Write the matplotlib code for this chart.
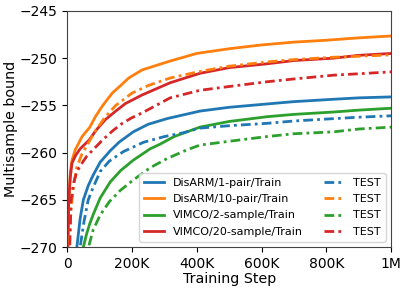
import numpy as np
import matplotlib
matplotlib.use('Agg')
import matplotlib.pyplot as plt

# steps in thousands
disarm1_train_x = [25, 30, 40, 50, 65, 80, 102, 133, 160, 204, 250, 308, 410, 500, 616, 700, 822, 900, 1000]
disarm1_train_y = [-272, -270, -267, -265, -263.5, -262.4, -261.0, -259.8, -258.9, -257.8, -257.0, -256.4,
                   -255.6, -255.2, -254.85, -254.6, -254.35, -254.2, -254.1]
disarm1_test_x = [36, 40, 52, 65, 80, 102, 130, 173, 236, 300, 358, 410, 500, 616, 700, 822, 900, 1000]
disarm1_test_y = [-272, -270, -267.3, -265, -263.7, -262.0, -260.9, -259.9, -258.9, -258.3, -257.9, -257.4,
                  -257.15, -256.9, -256.65, -256.4, -256.25, -256.1]

disarm10_train_x = [1, 2, 5, 10, 15, 25, 46, 70, 87, 110, 139, 165, 190, 231, 318, 400, 500, 600, 700, 800, 900, 1000]
disarm10_train_y = [-272, -270, -265, -262, -260.8, -259.7, -258.3, -257.3, -256.2, -255.0, -253.7, -252.9,
                    -252.1, -251.25, -250.3, -249.5, -249.0, -248.6, -248.3, -248.1, -247.85, -247.65]
disarm10_test_x = [5, 6, 12, 20, 30, 45, 62, 85, 118, 150, 200, 250, 318, 410, 500, 616, 700, 822, 900, 1000]
disarm10_test_y = [-272, -270, -266, -263.5, -261.5, -260.2, -259.2, -257.8, -256.2, -255.0, -253.7, -252.9,
                   -252.1, -251.4, -250.85, -250.4, -250.15, -249.9, -249.8, -249.65]

vimco2_train_x = [45, 50, 60, 70, 81, 102, 133, 165, 204, 256, 287, 330, 410, 500, 616, 700, 822, 900, 1000]
vimco2_train_y = [-272, -270, -268.6, -267.5, -266.5, -264.8, -263.1, -261.9, -260.8, -259.6, -259.1, -258.3,
                  -257.3, -256.7, -256.2, -255.95, -255.7, -255.5, -255.3]
vimco2_test_x = [60, 66, 80, 102, 130, 164, 204, 256, 310, 370, 410, 500, 616, 700, 822, 900, 1000]
vimco2_test_y = [-272, -270, -268.2, -266.6, -265.2, -264.0, -262.9, -261.6, -260.6, -259.7, -259.2, -258.8,
                 -258.3, -258.0, -257.8, -257.5, -257.3]

vimco20_train_x = [1, 2, 5, 10, 15, 26, 40, 67, 90, 118, 150, 180, 231, 318, 410, 500, 616, 700, 822, 900, 1000]
vimco20_train_y = [-272, -270, -265, -262.5, -261.1, -260.3, -259.6, -258.7, -257.6, -256.5, -255.6, -254.8,
                   -253.9, -252.6, -251.6, -251.0, -250.6, -250.25, -250.0, -249.7, -249.5]
vimco20_test_x = [7, 8, 12, 20, 30, 46, 60, 77, 108, 140, 170, 200, 231, 318, 410, 500, 616, 700, 822, 900, 1000]
vimco20_test_y = [-272, -270, -265, -263.2, -262.0, -261.1, -260.4, -259.8, -258.7, -257.7, -256.9, -256.3,
                  -255.8, -254.2, -253.4, -253.0, -252.5, -252.2, -251.8, -251.65, -251.45]

labels = ['DisARM/1-pair/Train', 'DisARM/10-pair/Train', 'VIMCO/2-sample/Train', 'VIMCO/20-sample/Train']
colors = ['#1f77b4', '#ff7f0e', '#2ca02c', '#d62728']
train = [(disarm1_train_x, disarm1_train_y), (disarm10_train_x, disarm10_train_y),
         (vimco2_train_x, vimco2_train_y), (vimco20_train_x, vimco20_train_y)]
test = [(disarm1_test_x, disarm1_test_y), (disarm10_test_x, disarm10_test_y),
        (vimco2_test_x, vimco2_test_y), (vimco20_test_x, vimco20_test_y)]

fig = plt.figure(figsize=(4.07, 2.88), dpi=100)
ax = fig.add_axes([0.165, 0.142, 0.796, 0.82])

for (x, y), c, lab in zip(train, colors, labels):
    ax.plot(np.array(x) * 1000, y, color=c, lw=2, label=lab)
for (x, y), c in zip(test, colors):
    ax.plot(np.array(x) * 1000, y, color=c, lw=2, ls=(0, (3.5, 1.5, 1, 1.5)), label='TEST')

ax.set_xlim(0, 1e6)
ax.set_ylim(-270, -245)
ax.set_xticks([0, 2e5, 4e5, 6e5, 8e5, 1e6])
ax.set_xticklabels(['0', '200K', '400K', '600K', '800K', '1M'])
ax.set_yticks([-270, -265, -260, -255, -250, -245])
ax.tick_params(labelsize=10)
ax.set_xlabel('Training Step', fontsize=10.3, labelpad=1)
ax.set_ylabel('Multisample bound', fontsize=10.3, labelpad=1)
for s in ax.spines.values():
    s.set_color('#444444')

ax.legend(loc='lower right', ncol=2, fontsize=8, handlelength=1.8, handletextpad=0.8,
          columnspacing=1.9, labelspacing=0.55, borderpad=0.45)

fig.savefig('out.png', dpi=100)
